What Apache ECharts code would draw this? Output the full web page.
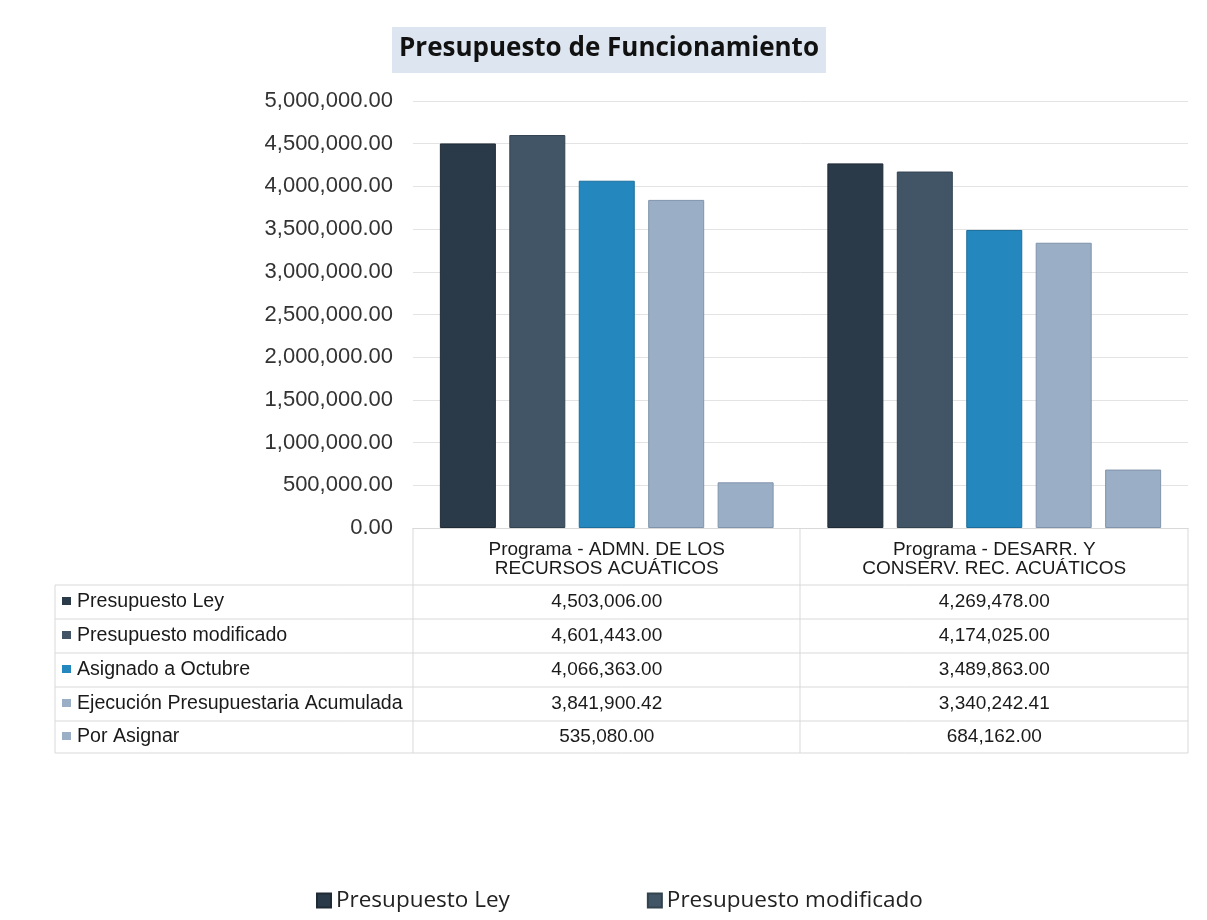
<!DOCTYPE html>
<html>
<head>
<meta charset="utf-8">
<script src="https://cdn.jsdelivr.net/npm/echarts@6/dist/echarts.min.js"></script>
<style>
  html, body { margin: 0; padding: 0; background: #fff; }
  #main { width: 1207px; height: 920px; }
</style>
</head>
<body>
<div id="main"></div>
<script>
// categorias y series
const categories = [
  "Programa - ADMN. DE LOS\nRECURSOS ACUÁTICOS",
  "Programa - DESARR. Y\nCONSERV. REC. ACUÁTICOS"
];
const seriesNames = [
  "Presupuesto Ley",
  "Presupuesto modificado",
  "Asignado a Octubre",
  "Ejecución Presupuestaria Acumulada",
  "Por Asignar"
];
const presupuestoLey = [4503006.00, 4269478.00];
const presupuestoModificado = [4601443.00, 4174025.00];
const asignadoOctubre = [4066363.00, 3489863.00];
const ejecucionAcumulada = [3841900.42, 3340242.41];
const porAsignar = [535080.00, 684162.00];
const yTicks = [0, 500000, 1000000, 1500000, 2000000, 2500000, 3000000, 3500000, 4000000, 4500000, 5000000];

const seriesData = [presupuestoLey, presupuestoModificado, asignadoOctubre, ejecucionAcumulada, porAsignar];
const colors = ["#2b3a48", "#425567", "#2488bf", "#9aaec5", "#9aaec5"];
const borders = ["#1f2a35", "#33424f", "#1b6d9b", "#7f93aa", "#8194ab"];

// formato 4,503,006.00
function fmt(v) {
  const parts = v.toFixed(2).split(".");
  parts[0] = parts[0].replace(/\B(?=(\d{3})+(?!\d))/g, ",");
  return parts.join(".");
}

const gridTop = 101, gridBottomY = 528, gridLeft = 413, gridRight = 1188;
const rowLines = [585, 619, 653, 687, 721, 753];
const tableLeft = 55;
const lineColor = "#d9d9d9";
const font = "'Liberation Sans', Arial, sans-serif";

const chart = echarts.init(document.getElementById("main"));

// ejes para las filas de la tabla
const rowAxes = seriesData.map((arr, i) => ({
  type: "category",
  gridIndex: 0,
  position: "bottom",
  data: categories,
  axisLine: { show: false },
  axisTick: { show: false },
  axisLabel: {
    margin: (rowLines[i] + rowLines[i + 1]) / 2 - gridBottomY,
    verticalAlign: "middle",
    color: "#1a1a1a",
    fontSize: 19,
    fontFamily: font,
    formatter: (val, idx) => fmt(arr[idx])
  }
}));

const graphics = [];
// lineas horizontales
rowLines.forEach(y => {
  graphics.push({ type: "line", shape: { x1: tableLeft, y1: y, x2: gridRight, y2: y }, style: { stroke: lineColor, lineWidth: 1 } });
});
// lineas verticales
[[tableLeft, rowLines[0]], [gridLeft, gridBottomY], [800, gridBottomY], [gridRight, gridBottomY]].forEach(([x, y0]) => {
  graphics.push({ type: "line", shape: { x1: x, y1: y0, x2: x, y2: rowLines[rowLines.length - 1] }, style: { stroke: lineColor, lineWidth: 1 } });
});
// etiquetas de filas
seriesNames.forEach((name, i) => {
  const cy = (rowLines[i] + rowLines[i + 1]) / 2;
  graphics.push({ type: "rect", shape: { x: 62, y: cy - 5, width: 9, height: 8 }, style: { fill: colors[i] } });
  graphics.push({ type: "text", x: 77, y: cy, style: { text: name, fill: "#1a1a1a", font: "19.6px " + font, textVerticalAlign: "middle", verticalAlign: "middle" } });
});

chart.setOption({
  backgroundColor: "#fff",
  title: {
    text: "Presupuesto de Funcionamiento",
    left: 392,
    top: 27,
    backgroundColor: "#dde6f0",
    padding: [9, 7, 11, 7],
    textStyle: { fontFamily: "Open Sans", fontWeight: "bold", fontSize: 26, color: "#111" }
  },
  legend: {
    data: seriesNames.slice(0, 2),
    left: 311,
    top: 884,
    itemGap: 137,
    itemWidth: 14,
    itemHeight: 14,
    icon: "rect",
    textStyle: { fontFamily: "Open Sans", fontSize: 22.5, color: "#222" }
  },
  grid: { left: gridLeft, right: 1207 - gridRight, top: gridTop, bottom: 920 - gridBottomY },
  xAxis: [{
    type: "category",
    data: categories,
    axisLine: { lineStyle: { color: lineColor } },
    axisTick: { show: false },
    axisLabel: { color: "#1a1a1a", fontSize: 19, fontFamily: font, lineHeight: 19, margin: 12 }
  }].concat(rowAxes),
  yAxis: {
    type: "value",
    min: yTicks[0],
    max: yTicks[yTicks.length - 1],
    interval: yTicks[1] - yTicks[0],
    axisLine: { show: false },
    axisTick: { show: false },
    splitLine: { lineStyle: { color: "#e3e3e3" } },
    axisLabel: { color: "#333", fontSize: 22, fontFamily: font, margin: 20, formatter: v => fmt(v) }
  },
  series: seriesNames.map((name, i) => ({
    name: name,
    type: "bar",
    data: seriesData[i],
    barWidth: 56,
    barGap: "24%",
    itemStyle: { color: colors[i], borderColor: borders[i], borderWidth: 1 }
  })),
  graphic: graphics
});
</script>
</body>
</html>
